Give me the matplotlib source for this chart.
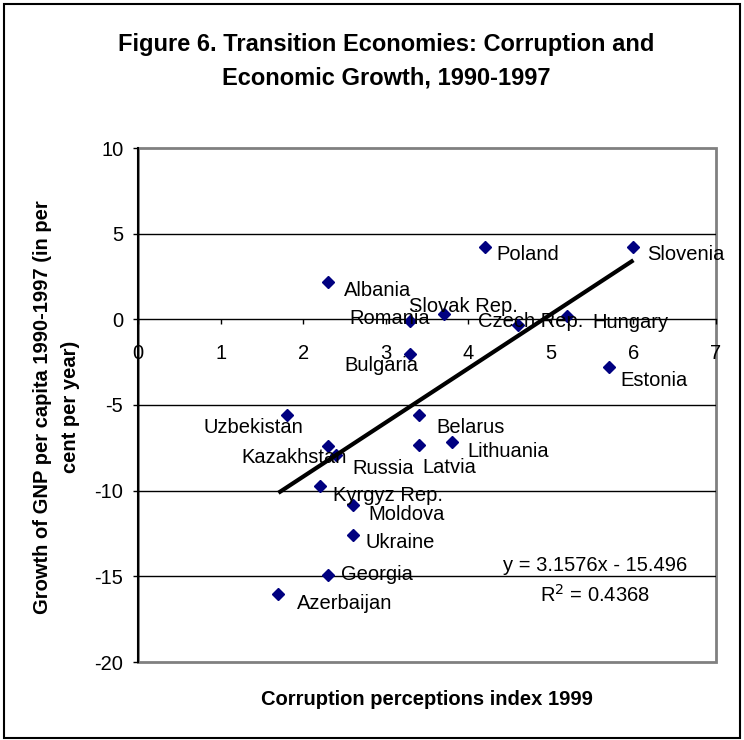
import matplotlib
matplotlib.use("Agg")
import matplotlib.pyplot as plt
from matplotlib.patches import Rectangle

plt.rcParams['font.family'] = ['Liberation Sans', 'DejaVu Sans']
plt.rcParams['axes.unicode_minus'] = False

# data: corruption index 1999 vs GNP growth 1990-97
countries = ["Slovenia", "Poland", "Albania", "Slovak Rep.", "Romania", "Czech Rep.",
             "Hungary", "Bulgaria", "Estonia", "Uzbekistan", "Kazakhstan", "Russia",
             "Belarus", "Latvia", "Lithuania", "Kyrgyz Rep.", "Moldova", "Ukraine",
             "Georgia", "Azerbaijan"]
cpi = [6.0, 4.2, 2.3, 3.7, 3.3, 4.6, 5.2, 3.3, 5.7, 1.8, 2.3, 2.4,
       3.4, 3.4, 3.8, 2.2, 2.6, 2.6, 2.3, 1.7]
growth = [4.2, 4.2, 2.2, 0.3, -0.1, -0.35, 0.2, -2.0, -2.8, -5.6, -7.4, -7.9,
          -5.6, -7.35, -7.15, -9.75, -10.85, -12.6, -14.95, -16.05]

# label offsets in pixels (dx, dy of baseline) as placed in the original
label_offsets = [(14, -13), (12, -13), (16, -14), (-35, 2), (-61, -3), (-40, -2),
                 (25, -12), (-66, -17), (12, -19), (-83, -18), (-87, -17), (16, -19),
                 (18, -18), (4, -28), (16, -15), (13, -15), (16, -15), (13, -13),
                 (13, -5), (19, -15)]

slope = 3.1576
intercept = -15.496
r2 = 0.4368

FS = 14.5

fig = plt.figure(figsize=(7.44, 7.40), dpi=100)
W, H = 744, 740
ax = fig.add_axes([138 / W, 1 - 662 / H, 578 / W, 514 / H])

# figure frame
fig.patches.append(Rectangle((4 / W, 2 / H), 736 / W, 734 / H, transform=fig.transFigure,
                             fill=False, edgecolor='black', lw=1.5))

ax.set_xlim(0, 7)
ax.set_ylim(-20, 10)
ax.set_xticks(range(0, 8))
ax.set_yticks(range(-20, 11, 5))

for g in [-15, -10, -5, 5]:
    ax.axhline(g, color='black', lw=1, zorder=1)

ax.spines['top'].set_visible(False)
ax.spines['right'].set_visible(False)
ax.spines['bottom'].set_position(('data', 0))
ax.spines['bottom'].set_linewidth(1)
ax.spines['left'].set_linewidth(1.5)
ax.add_patch(Rectangle((0, 0), 1, 1, transform=ax.transAxes, fill=False,
                       edgecolor='#808080', lw=2, zorder=0.5, clip_on=False))

ax.tick_params(axis='x', direction='out', length=3.6, width=1, pad=14.5, labelsize=FS)
ax.tick_params(axis='y', direction='out', length=3.6, width=1, pad=7, labelsize=FS)

ax.plot(cpi, growth, linestyle='none', marker='D', markersize=6.5,
        color='#000080', zorder=3)

x0, x1 = min(cpi), max(cpi)
ax.plot([x0, x1], [slope * x0 + intercept, slope * x1 + intercept],
        color='black', lw=3, zorder=4, solid_capstyle='butt')

for name, x, y, (dx, dy) in zip(countries, cpi, growth, label_offsets):
    ax.annotate(name, (x, y), xytext=(dx, dy), textcoords='offset pixels',
                ha='left', va='baseline', fontsize=FS, zorder=5)

fig.text(595 / W, 1 - 571 / H, "y = 3.1576x - 15.496", ha='center', va='baseline', fontsize=FS)
fig.text(595 / W, 1 - 602 / H, "R$^2$ = %.4f" % r2, ha='center', va='baseline', fontsize=FS)

fig.text(386 / W, 1 - 51 / H, "Figure 6. Transition Economies: Corruption and",
         ha='center', va='baseline', fontsize=17, fontweight='bold')
fig.text(386 / W, 1 - 85 / H, "Economic Growth, 1990-1997",
         ha='center', va='baseline', fontsize=17, fontweight='bold')

fig.text(427 / W, 1 - 705 / H, "Corruption perceptions index 1999",
         ha='center', va='baseline', fontsize=FS, fontweight='bold')
fig.text(43 / W, 1 - 407 / H, "Growth of GNP per capita 1990-1997 (in per",
         ha='center', va='center', rotation=90, fontsize=FS, fontweight='bold')
fig.text(70 / W, 1 - 407 / H, "cent per year)",
         ha='center', va='center', rotation=90, fontsize=FS, fontweight='bold')

fig.savefig("out.png", dpi=100)
